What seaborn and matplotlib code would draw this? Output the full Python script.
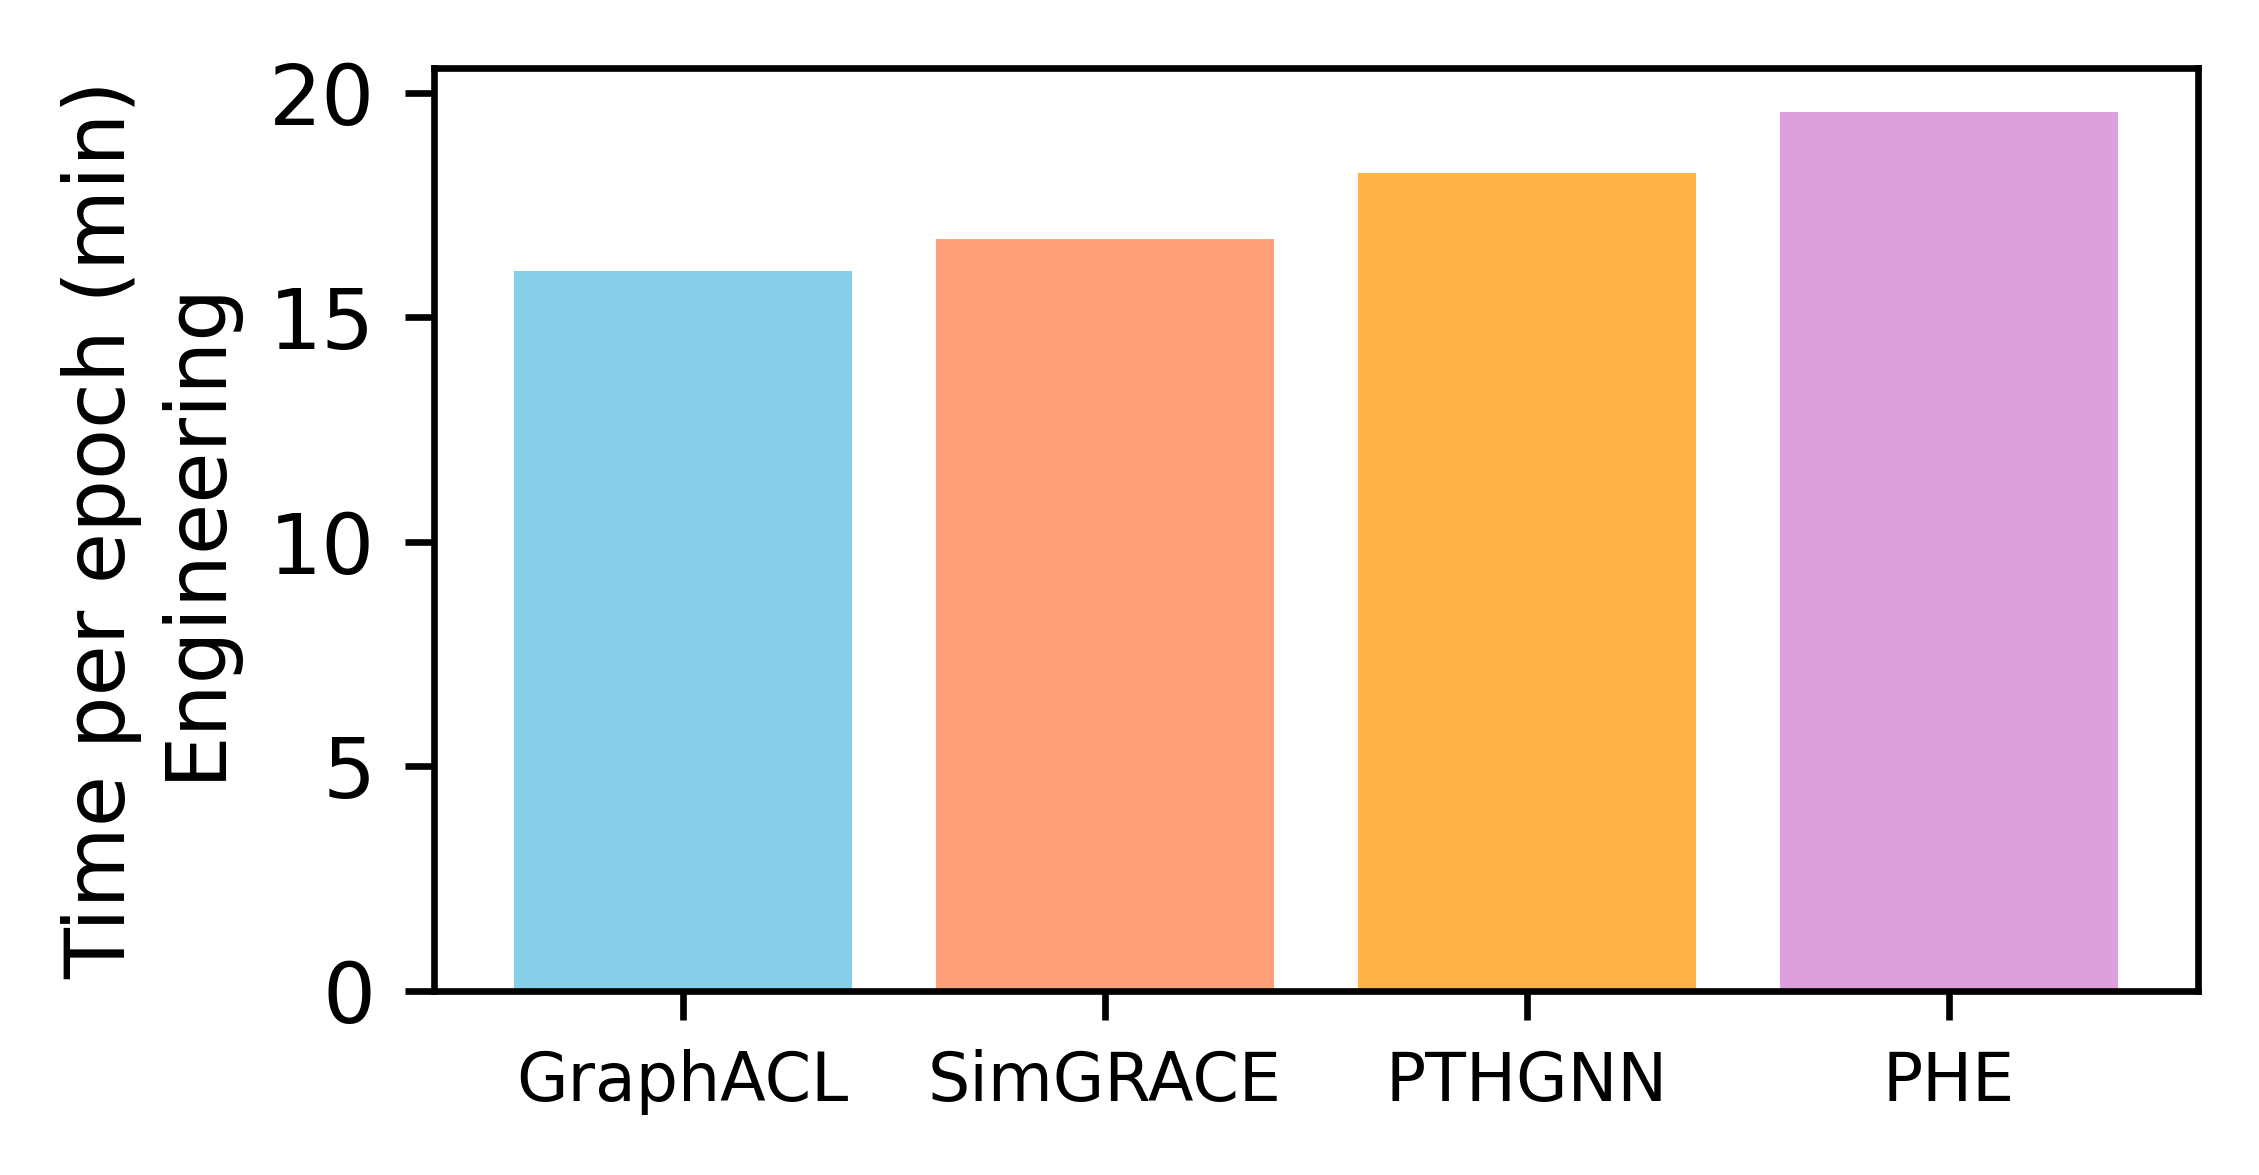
import matplotlib
matplotlib.use("Agg")
import matplotlib.pyplot as plt
import seaborn as sns

# data
methods = ["GraphACL", "SimGRACE", "PTHGNN", "PHE"]
times = [16.03, 16.75, 18.21, 19.57]
colors = ["#87CEEB", "#FFA07A", "#FFB347", "#DDA0DD"]

plt.rcParams['font.family'] = ['DejaVu Sans']

fig, ax = plt.subplots(figsize=(2259 / 600, 1175 / 600), dpi=600)
fig.subplots_adjust(left=0.192, right=0.973, top=0.942, bottom=0.157)

sns.barplot(x=methods, y=times, hue=methods, palette=colors, width=0.8,
            saturation=1, legend=False, ax=ax)

ax.set_xlim(-0.59, 3.59)
ax.set_ylim(0, max(times) * 1.05)
ax.set_yticks([0, 5, 10, 15, 20])
ax.set_ylabel("Time per epoch (min)\nEngineering", fontsize=10)
ax.set_xlabel("")
ax.tick_params(axis='x', labelsize=8)
ax.tick_params(axis='y', labelsize=10)

plt.savefig("out.png", dpi=600)
